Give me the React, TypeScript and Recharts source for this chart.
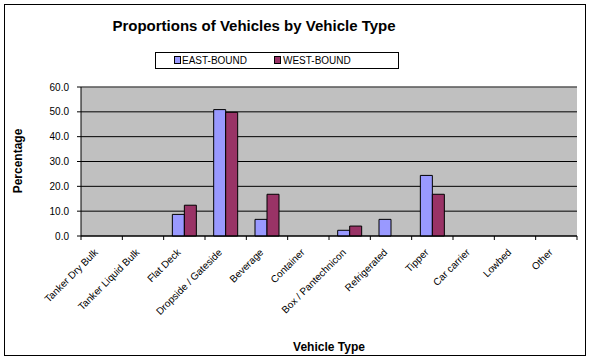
import React from "react";
import {
  BarChart,
  Bar,
  XAxis,
  YAxis,
  CartesianGrid,
  ReferenceLine,
} from "recharts";

const categories = [
  "Tanker Dry Bulk",
  "Tanker Liquid Bulk",
  "Flat Deck",
  "Dropside / Gateside",
  "Beverage",
  "Container",
  "Box / Pantechnicon",
  "Refrigerated",
  "Tipper",
  "Car carrier",
  "Lowbed",
  "Other",
];
const eastBound = [0, 0, 8.7, 50.9, 6.7, 0, 2.3, 6.7, 24.4, 0, 0, 0];
const westBound = [0, 0, 12.4, 49.8, 16.8, 0, 4.0, 0, 16.8, 0, 0, 0];
const yTicks = [0, 10, 20, 30, 40, 50, 60];
const seriesNames = ["EAST-BOUND", "WEST-BOUND"];

const data = categories.map((name, i) => ({
  name,
  east: eastBound[i],
  west: westBound[i],
}));

const W = 591;
const H = 361;
const PLOT_LEFT = 81;
const PLOT_RIGHT = 577;
const PLOT_TOP = 87;
const PLOT_BOTTOM = 236;
const BAND = (PLOT_RIGHT - PLOT_LEFT) / categories.length;
const EAST = "#9999FF";
const WEST = "#993366";
const FONT = "Arial, 'Liberation Sans', sans-serif";

function CategoryTick(props: any) {
  const { x, y, payload, index } = props;
  return (
    <g>
      <line x1={x + BAND / 2} y1={PLOT_BOTTOM} x2={x + BAND / 2} y2={PLOT_BOTTOM + 4} stroke="#000" />
      {index === 0 && (
        <line x1={x - BAND / 2} y1={PLOT_BOTTOM} x2={x - BAND / 2} y2={PLOT_BOTTOM + 4} stroke="#000" />
      )}
      <text
        x={x - 3}
        y={y + 9}
        transform={`rotate(-45, ${x - 3}, ${y + 9})`}
        textAnchor="end"
        fontSize={10}
        fontFamily={FONT}
        fill="#000"
      >
        {payload.value}
      </text>
    </g>
  );
}

export default function App() {
  return (
    <div style={{ position: "absolute", left: 0, top: 0, width: W, height: H, background: "#fff" }}>
      <BarChart
        width={W}
        height={H}
        data={data}
        margin={{ top: PLOT_TOP, right: W - PLOT_RIGHT, left: 0, bottom: 0 }}
        barCategoryGap="21%"
        barGap={0}
      >
        <CartesianGrid vertical={false} stroke="#000" fill="#C0C0C0" fillOpacity={1} />
        <ReferenceLine y={60} stroke="#808080" />
        <XAxis
          dataKey="name"
          interval={0}
          tickLine={false}
          axisLine={{ stroke: "#000" }}
          tick={<CategoryTick />}
          height={H - PLOT_BOTTOM}
          label={{
            value: "Vehicle Type",
            position: "insideBottom",
            offset: 10,
            fontSize: 12,
            fontWeight: "bold",
            fontFamily: FONT,
            fill: "#000",
          }}
        />
        <YAxis
          domain={[0, 60]}
          ticks={yTicks}
          width={PLOT_LEFT}
          tickSize={4}
          tickMargin={8}
          tickLine={{ stroke: "#000" }}
          axisLine={{ stroke: "#000" }}
          tickFormatter={(v: number) => v.toFixed(1)}
          tick={{ fontSize: 10, fontFamily: FONT, fill: "#000" }}
        />
        <Bar dataKey="east" fill={EAST} stroke="#000" strokeWidth={1} isAnimationActive={false} />
        <Bar dataKey="west" fill={WEST} stroke="#000" strokeWidth={1} isAnimationActive={false} />
      </BarChart>
      <svg
        width={W}
        height={H}
        style={{ position: "absolute", left: 0, top: 0, pointerEvents: "none" }}
      >
        <rect x={4.5} y={4.5} width={581} height={351} fill="none" stroke="#000" />
        <text x={254} y={31} textAnchor="middle" fontSize={15} fontWeight="bold" fontFamily={FONT}>
          Proportions of Vehicles by Vehicle Type
        </text>
        <rect x={155.5} y={52.5} width={243} height={16} fill="#fff" stroke="#000" />
        <rect x={174.5} y={56.5} width={6} height={7} fill={EAST} stroke="#000" />
        <text x={182} y={64} fontSize={10} fontFamily={FONT}>{seriesNames[0]}</text>
        <rect x={274.5} y={56.5} width={6} height={7} fill={WEST} stroke="#000" />
        <text x={283} y={64} fontSize={10} fontFamily={FONT}>{seriesNames[1]}</text>
        <text
          x={22}
          y={161}
          transform="rotate(-90, 22, 161)"
          textAnchor="middle"
          fontSize={12}
          fontWeight="bold"
          fontFamily={FONT}
        >
          Percentage
        </text>
      </svg>
    </div>
  );
}
